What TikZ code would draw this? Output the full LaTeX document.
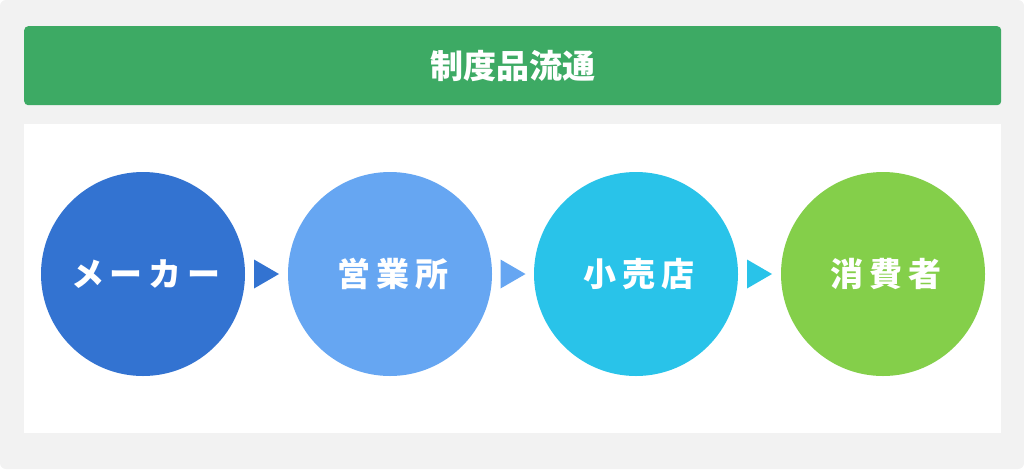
\documentclass[tikz,border=0pt]{standalone}
\usepackage{fontspec}
\usetikzlibrary{calc}
\newfontfamily\cjk{Noto Sans CJK JP}
\newfontfamily\cjksp{Noto Sans CJK JP}[LetterSpace=18]
\definecolor{bgc}{HTML}{F2F2F2}
\definecolor{greenbar}{HTML}{3DAA64}
\definecolor{c1}{HTML}{3373D1}
\definecolor{c2}{HTML}{66A6F2}
\definecolor{c3}{HTML}{29C3E9}
\definecolor{c4}{HTML}{84CF4A}
\tikzset{
  stage/.style={circle, minimum size=204pt, inner sep=0pt, text=white, font=\cjksp\bfseries\fontsize{33}{36}\selectfont},
  tri/.style={fill=#1, draw=none}
}
\begin{document}
\begin{tikzpicture}[x=1pt,y=-1pt]
\fill[bgc, rounded corners=6pt] (0,0) rectangle (1024,469);
\useasboundingbox (0,0) rectangle (1024,469);
\node[fill=greenbar, rounded corners=4pt, minimum width=977pt, minimum height=79pt, inner sep=0pt, anchor=north west, text=white, font=\cjk\bfseries\fontsize{33}{36}\selectfont] (head) at (24,26) {制度品流通};
\node[fill=white, minimum width=977pt, minimum height=309pt, inner sep=0pt, anchor=north west] (panel) at (24,124) {};
\node[stage, fill=c1] (s1) at (143,274) {\hspace*{6pt}メーカー};
\node[stage, fill=c2] (s2) at (390,274) {\hspace*{6pt}営業所};
\node[stage, fill=c3] (s3) at (636,274) {\hspace*{6pt}小売店};
\node[stage, fill=c4] (s4) at (883,274) {\hspace*{6pt}消費者};
\foreach \a/\b/\c in {s1/s2/c1, s2/s3/c2, s3/s4/c3}{
  \path (\a.east) -- (\b.west) coordinate[pos=0.5] (m);
  \fill[tri=\c] ($(m)+(-12.5,-14.5)$) -- ($(m)+(12.5,0)$) -- ($(m)+(-12.5,14.5)$) -- cycle;
}
\end{tikzpicture}
\end{document}
